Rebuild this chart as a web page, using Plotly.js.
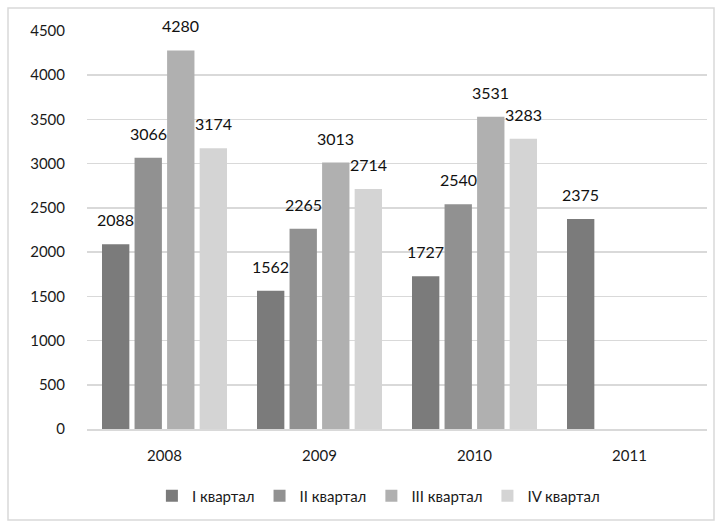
<!DOCTYPE html>
<html>
<head>
<meta charset="utf-8">
<script src="https://cdn.plot.ly/plotly-3.0.1.min.js"></script>
<style>
html,body{margin:0;padding:0;background:#fff;}
#chart{width:722px;height:530px;}
</style>
</head>
<body>
<div id="chart"></div>
<script>
const years = ['2008', '2009', '2010', '2011'];
const q1 = [2088, 1562, 1727, 2375];
const q2 = [3066, 2265, 2540, null];
const q3 = [4280, 3013, 3531, null];
const q4 = [3174, 2714, 3283, null];
const seriesNames = ['I квартал', 'II квартал', 'III квартал', 'IV квартал'];
const colors = ['#7b7b7b', '#919191', '#b0b0b0', '#d4d4d4'];
const yTicks = [0, 500, 1000, 1500, 2000, 2500, 3000, 3500, 4000, 4500];

const font = 'Lato, "Open Sans", "Liberation Sans", sans-serif';
const series = [q1, q2, q3, q4];

const L = 87, R = 15, T = 31, B = 101;
const W = 722 - L - R, H = 530 - T - B;
const bargap = 0.16;

const traces = series.map((vals, i) => ({
  type: 'bar',
  name: seriesNames[i],
  x: years,
  y: vals,
  marker: {color: colors[i]},
  hoverinfo: 'x+y+name'
}));

// data labels placed above each bar (offset computed from the group layout)
const slot = (W / years.length) * (1 - bargap) / series.length;
const annotations = [];
series.forEach((vals, i) => {
  vals.forEach((v, j) => {
    if (v == null) return;
    annotations.push({
      x: j, y: v, xref: 'x', yref: 'y',
      text: String(v), showarrow: false,
      xanchor: 'center', yanchor: 'bottom',
      xshift: (i - (series.length - 1) / 2) * slot,
      yshift: 13,
      font: {family: font, size: 16, color: '#111'}
    });
  });
});

const layout = {
  width: 722, height: 530,
  margin: {l: L, r: R, t: T, b: B, pad: 0, autoexpand: false},
  paper_bgcolor: '#fff', plot_bgcolor: '#fff',
  barmode: 'group',
  bargap: bargap,
  bargroupgap: 0.16,
  font: {family: font, size: 15, color: '#222'},
  xaxis: {
    type: 'category',
    categoryorder: 'array',
    categoryarray: years,
    automargin: false,
    showgrid: false,
    showline: true,
    linecolor: '#d9d9d9',
    linewidth: 1.5,
    ticks: '',
    tickfont: {family: font, size: 15, color: '#1a1a1a'},
    ticklabelstandoff: 12
  },
  yaxis: {
    range: [0, 4500],
    automargin: false,
    tickvals: yTicks,
    ticktext: yTicks.map(String),
    showgrid: true,
    gridcolor: '#d9d9d9',
    gridwidth: 1.5,
    zeroline: false,
    showline: false,
    ticks: '',
    tickfont: {family: font, size: 15, color: '#1a1a1a'},
    ticklabelstandoff: 21
  },
  showlegend: true,
  legend: {
    orientation: 'h',
    yref: 'container',
    x: 0.47, xanchor: 'center',
    y: (530 - 496) / 530, yanchor: 'middle',
    bgcolor: 'rgba(0,0,0,0)',
    font: {family: font, size: 15, color: '#1a1a1a'},
    itemwidth: 30,
    traceorder: 'normal'
  },
  annotations: annotations,
  shapes: [{
    type: 'rect', xref: 'paper', yref: 'paper',
    x0: (8 - L) / W, x1: (714 - L) / W,
    y0: -(520 - T - H) / H, y1: 1 + (T - 8) / H,
    line: {color: '#d9d9d9', width: 1.5},
    fillcolor: 'rgba(0,0,0,0)', layer: 'below'
  }]
};

Plotly.newPlot('chart', traces, layout, {displayModeBar: false, staticPlot: true});
</script>
</body>
</html>
